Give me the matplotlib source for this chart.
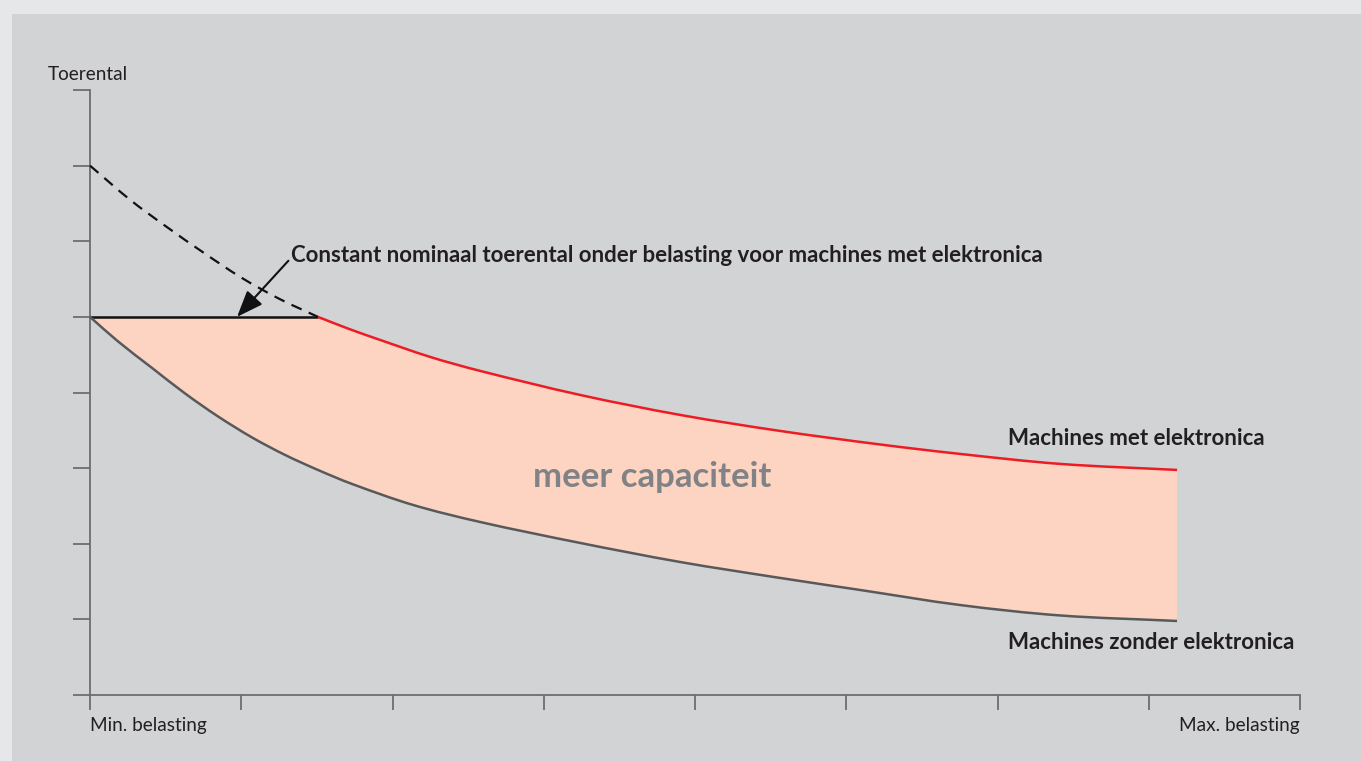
import numpy as np
import matplotlib
matplotlib.use("Agg")
import matplotlib.pyplot as plt
from matplotlib.patches import Rectangle, PathPatch
from matplotlib.path import Path

# Data (x: load 0..8, y: speed 0..8)
flat_x = [0.0, 1.507]
flat_y = [5.0, 5.0]

dashed_x = [0.0, 0.264, 0.5, 0.75, 1.0, 1.25, 1.507]
dashed_y = [7.0, 6.55, 6.2, 5.85, 5.52, 5.24, 5.0]

met_x = [1.507, 1.712, 1.917, 2.248, 2.579, 3.240, 3.901, 4.562, 5.223, 5.752, 6.413, 7.187]
met_y = [5.0, 4.841, 4.696, 4.471, 4.286, 3.968, 3.704, 3.492, 3.313, 3.188, 3.056, 2.976]

zonder_x = [0.0, 0.185, 0.410, 0.628, 0.846, 1.071, 1.289, 1.507, 1.732, 2.136,
            2.579, 3.240, 3.901, 4.562, 5.091, 5.752, 6.413, 7.187]
zonder_y = [5.0, 4.676, 4.325, 3.988, 3.684, 3.406, 3.175, 2.976, 2.791, 2.513,
            2.288, 2.011, 1.759, 1.548, 1.389, 1.190, 1.052, 0.979]

x_ticks = list(range(9))
y_ticks = list(range(9))

W, H = 1361, 761
outer_bg = "#e6e7e9"
inner_bg = "#d1d3d5"
axis_col = "#6d6e71"
red = "#ed1c24"
grey_line = "#58595b"
fill_col = "#fdd3c1"
text_col = "#231f20"


def smooth_segments(xs, ys):
    # cubic Hermite pieces through the read points, as bezier vertices
    xs = np.asarray(xs, float)
    ys = np.asarray(ys, float)
    n = len(xs)
    m = np.empty(n)
    for i in range(n):
        if i == 0:
            m[i] = (ys[1] - ys[0]) / (xs[1] - xs[0])
        elif i == n - 1:
            m[i] = (ys[-1] - ys[-2]) / (xs[-1] - xs[-2])
        else:
            m[i] = (ys[i + 1] - ys[i - 1]) / (xs[i + 1] - xs[i - 1])
    verts = []
    for i in range(n - 1):
        h = xs[i + 1] - xs[i]
        verts += [(xs[i] + h / 3, ys[i] + m[i] * h / 3),
                  (xs[i + 1] - h / 3, ys[i + 1] - m[i + 1] * h / 3),
                  (xs[i + 1], ys[i + 1])]
    return verts


def curve_path(xs, ys):
    verts = [(xs[0], ys[0])] + smooth_segments(xs, ys)
    codes = [Path.MOVETO] + [Path.CURVE4] * (len(verts) - 1)
    return Path(verts, codes)


plt.rcParams["font.family"] = ["Lato", "DejaVu Sans"]

fig = plt.figure(figsize=(W / 100, H / 100), dpi=100, facecolor=outer_bg)
fig.patches.append(Rectangle((12 / W, 0), 1 - 12 / W, (H - 14) / H,
                             transform=fig.transFigure, facecolor=inner_bg,
                             edgecolor="none", zorder=-10))

ax = fig.add_axes([90 / W, (H - 695) / H, 1210 / W, 605 / H])
ax.set_zorder(1)
ax.set_facecolor("none")
ax.set_xlim(0, 8)
ax.set_ylim(0, 8)

for s in ["top", "right"]:
    ax.spines[s].set_visible(False)
for s in ["left", "bottom"]:
    ax.spines[s].set_color(axis_col)
    ax.spines[s].set_linewidth(1.3)

ax.set_xticks(x_ticks)
ax.set_yticks(y_ticks)
ax.set_xticklabels([])
ax.set_yticklabels([])
ax.tick_params(axis="x", direction="out", length=11, width=1.3, color=axis_col)
ax.tick_params(axis="y", direction="out", length=12.5, width=1.3, color=axis_col)

# area between the two curves: flat line + red curve, back along the grey curve
fill_verts = [(flat_x[0], flat_y[0]), (flat_x[1], flat_y[1])]
fill_codes = [Path.MOVETO, Path.LINETO]
red_seg = smooth_segments(met_x, met_y)
fill_verts += red_seg
fill_codes += [Path.CURVE4] * len(red_seg)
fill_verts.append((zonder_x[-1], zonder_y[-1]))
fill_codes.append(Path.LINETO)
grey_seg = smooth_segments(zonder_x[::-1], zonder_y[::-1])
fill_verts += grey_seg
fill_codes += [Path.CURVE4] * len(grey_seg)
fill_verts.append((0, 0))
fill_codes.append(Path.CLOSEPOLY)
ax.add_patch(PathPatch(Path(fill_verts, fill_codes), facecolor=fill_col,
                       edgecolor="none", zorder=1))

ax.add_patch(PathPatch(curve_path(dashed_x, dashed_y), fill=False, edgecolor="#111111",
                       lw=1.6, ls=(0, (5, 3.5)), zorder=3))
ax.plot(flat_x, flat_y, color="#111111", lw=1.8, zorder=3, solid_capstyle="butt")
ax.add_patch(PathPatch(curve_path(met_x, met_y), fill=False, edgecolor=red,
                       lw=1.8, zorder=3))
ax.add_patch(PathPatch(curve_path(zonder_x, zonder_y), fill=False, edgecolor=grey_line,
                       lw=1.8, zorder=3))

ax.annotate("Constant nominaal toerental onder belasting voor machines met elektronica",
            xy=(0.972, 5.0), xytext=(1.33, 5.81),
            ha="left", va="center", fontsize=16, fontweight="bold", color=text_col,
            arrowprops=dict(arrowstyle="-|>,head_length=0.9,head_width=0.35",
                            color="#111111", lw=1.5, shrinkA=0, shrinkB=0,
                            relpos=(0, 0.4), mutation_scale=18),
            zorder=4)

ax.text(6.07, 3.39, "Machines met elektronica", ha="left", va="center",
        fontsize=16, fontweight="bold", color=text_col)
ax.text(6.07, 0.70, "Machines zonder elektronica", ha="left", va="center",
        fontsize=16, fontweight="bold", color=text_col)
ax.text(3.72, 2.88, "meer capaciteit", ha="center", va="center",
        fontsize=25, fontweight="bold", color="#808285")

ax.text(0, -0.40, "Min. belasting", ha="left", va="center", fontsize=13.7, color=text_col)
ax.text(8, -0.40, "Max. belasting", ha="right", va="center", fontsize=13.7, color=text_col)
ax.text(-0.28, 8.2, "Toerental", ha="left", va="center", fontsize=13.7, color=text_col)

for a in ax.get_children():
    if hasattr(a, "set_clip_on"):
        a.set_clip_on(False)

fig.savefig("out.png", dpi=100, facecolor=outer_bg)
